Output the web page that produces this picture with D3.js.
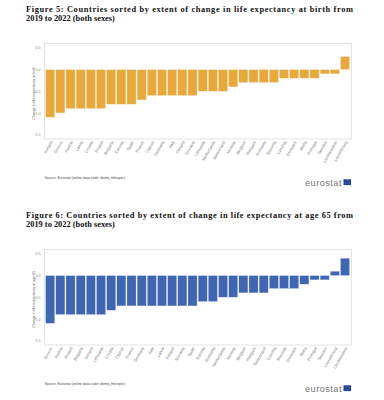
<!DOCTYPE html>
<head>
  <meta charset="utf-8">
  <title>Life expectancy change</title>
  <style>
    body { margin: 0; background: #fff; }
    text { font-family: "Liberation Sans", sans-serif; }
    .title { font-family: "Liberation Serif", serif; font-weight: bold; font-size: 8.4px; fill: #111; }
  </style>
</head>
<body>
  <script src="https://d3js.org/d3.v7.min.js"></script>
  <script>
  // figure 5: change in life expectancy at birth, 2019 -> 2022
  const birthCountries = ["Iceland", "Greece", "Austria", "Latvia", "Croatia", "Poland", "Bulgaria", "Estonia",
    "Spain", "France", "Cyprus", "Germany", "Italy", "Finland", "Slovakia", "Lithuania", "Netherlands",
    "Switzerland", "Norway", "Belgium", "Hungary", "Romania", "Slovenia", "Czechia", "Denmark", "Malta",
    "Portugal", "Sweden", "Liechtenstein", "Luxembourg"];
  const birthChange = [-1.1, -1.0, -0.9, -0.9, -0.9, -0.9, -0.8, -0.8, -0.8, -0.7, -0.6, -0.6, -0.6, -0.6, -0.6,
    -0.5, -0.5, -0.5, -0.4, -0.3, -0.3, -0.3, -0.3, -0.2, -0.2, -0.2, -0.2, -0.1, -0.1, 0.3];

  // figure 6: change in life expectancy at age 65
  const age65Countries = ["Greece", "Austria", "Poland", "Bulgaria", "Iceland", "Lithuania", "Croatia", "Cyprus",
    "France", "Germany", "Italy", "Latvia", "Finland", "Slovakia", "Spain", "Estonia", "Romania", "Netherlands",
    "Norway", "Belgium", "Hungary", "Switzerland", "Czechia", "Slovenia", "Denmark", "Malta", "Portugal",
    "Sweden", "Luxembourg", "Liechtenstein"];
  const age65Change = [-1.1, -0.9, -0.9, -0.9, -0.9, -0.9, -0.8, -0.7, -0.7, -0.7, -0.7, -0.7, -0.7, -0.7, -0.7,
    -0.6, -0.6, -0.5, -0.5, -0.4, -0.4, -0.4, -0.3, -0.3, -0.3, -0.2, -0.1, -0.1, 0.1, 0.4];

  const yTicks = [0.5, 0.0, -0.5, -1.0, -1.5];

  const svg = d3.select("body").append("svg")
    .attr("width", 384)
    .attr("height", 400);

  function drawFigure(top, title1, title2, countries, values, colour, yTitle) {
    const g = svg.append("g").attr("transform", `translate(0,${top})`);

    g.append("text").attr("class", "title")
      .attr("x", 26).attr("y", 11.8)
      .attr("textLength", 327).attr("lengthAdjust", "spacing")
      .text(title1);
    g.append("text").attr("class", "title")
      .attr("x", 26).attr("y", 21.3)
      .text(title2);

    const plotTop = 43.5, plotBottom = 139, left = 44.5, right = 351.5;

    const x = d3.scaleBand()
      .domain(countries)
      .range([left + 0.8, right - 1.6])
      .paddingInner(0.1)
      .paddingOuter(0.03);
    const y = d3.scaleLinear().domain([-1.6, 0.6]).range([plotBottom, plotTop]);

    // plot frame
    g.append("rect")
      .attr("x", left).attr("y", plotTop)
      .attr("width", right - left).attr("height", plotBottom - plotTop)
      .attr("fill", "none").attr("stroke", "#dcdcdc").attr("stroke-width", 0.8);

    const yAxis = g.append("g")
      .attr("transform", `translate(${left},0)`)
      .call(d3.axisLeft(y).tickValues(yTicks).tickSize(0).tickPadding(4).tickFormat(d3.format(".1f")));
    yAxis.select(".domain").remove();
    yAxis.selectAll("text").attr("font-size", 3.6).attr("fill", "#888")
      .attr("font-family", "Liberation Sans, sans-serif");

    g.append("text")
      .attr("transform", `translate(35,${(plotTop + plotBottom) / 2 + 2}) rotate(-90)`)
      .attr("text-anchor", "middle")
      .attr("font-size", 3.6).attr("fill", "#555")
      .text(yTitle);

    g.append("g").selectAll("rect")
      .data(values)
      .join("rect")
      .attr("x", (d, i) => x(countries[i]))
      .attr("width", x.bandwidth())
      .attr("y", d => y(Math.max(0, d)))
      .attr("height", d => Math.abs(y(d) - y(0)))
      .attr("fill", colour)
      .attr("stroke", "#f4f4f4").attr("stroke-width", 0.3);

    // rotated category labels
    g.append("g").selectAll("text")
      .data(countries)
      .join("text")
      .attr("transform", d => `translate(${x(d) + x.bandwidth() / 2 + 2.5},${plotBottom + 3}) rotate(-60)`)
      .attr("text-anchor", "end")
      .attr("font-size", 4.1).attr("fill", "#777")
      .text(d => d);

    g.append("text")
      .attr("x", 44.5).attr("y", 178.5)
      .attr("font-size", 3.5).attr("fill", "#444")
      .text("Source: Eurostat (online data code: demo_mlexpec)");

    // eurostat mark
    g.append("text")
      .attr("x", 341.5).attr("y", 185.5)
      .attr("text-anchor", "end")
      .attr("font-size", 9.2).attr("fill", "#777")
      .attr("textLength", 36.5)
      .text("eurostat");
    g.append("rect")
      .attr("x", 343.5).attr("y", 179.3)
      .attr("width", 7.5).attr("height", 5.8)
      .attr("fill", "#1d3f9e");
    const stars = d3.range(8).map(k => k * Math.PI / 4);
    g.append("g").selectAll("circle")
      .data(stars)
      .join("circle")
      .attr("cx", a => 347.25 + 1.8 * Math.cos(a))
      .attr("cy", a => 182.2 + 1.8 * Math.sin(a))
      .attr("r", 0.3)
      .attr("fill", "#f3d24a");
  }

  drawFigure(0,
    "Figure 5: Countries sorted by extent of change in life expectancy at birth from",
    "2019 to 2022 (both sexes)",
    birthCountries, birthChange, "#e9a93a", "Change in life expectancy at birth");

  drawFigure(206,
    "Figure 6: Countries sorted by extent of change in life expectancy at age 65 from",
    "2019 to 2022 (both sexes)",
    age65Countries, age65Change, "#3e66b3", "Change in life expectancy at age 65");
  </script>
</body>
</html>
